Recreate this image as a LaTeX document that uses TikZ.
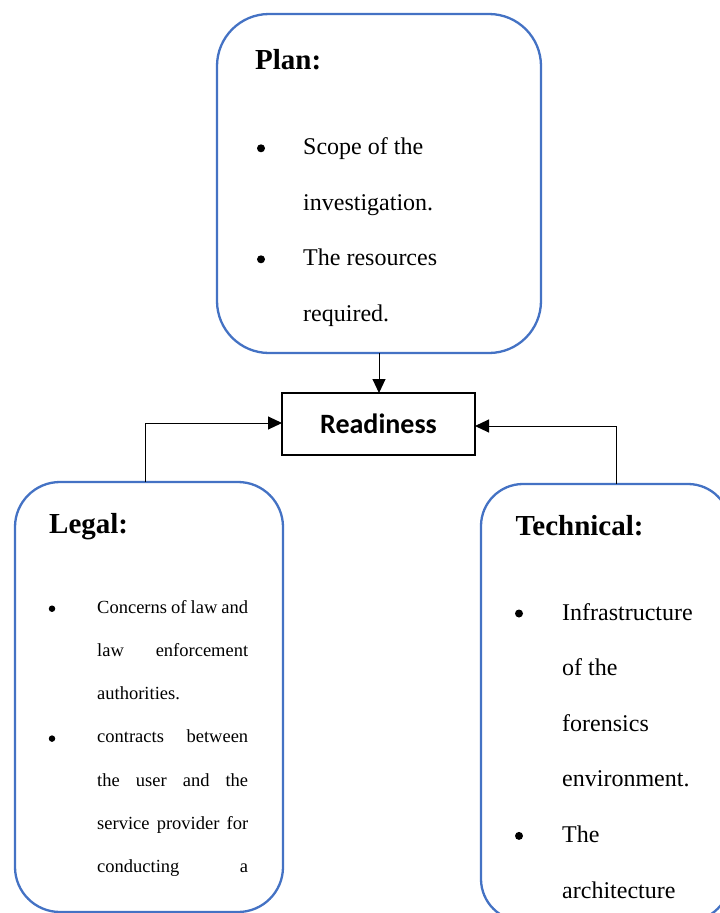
\documentclass[tikz,border=0pt]{standalone}
\usepackage{fontspec}
\setmainfont{Liberation Serif}
\newfontfamily\calibfont{Carlito}
\usetikzlibrary{arrows.meta}
\definecolor{boxblue}{RGB}{68,114,196}

\begin{document}
\begin{tikzpicture}[x=1pt,y=-1pt,
  roundbox/.style={draw=boxblue, line width=2.3pt, rounded corners=#1,
    inner sep=0pt, outer sep=0pt, fill=white},
  roundbox/.default=45pt,
  readybox/.style={draw=black, line width=2.6pt, inner sep=0pt, outer sep=0pt,
    minimum width=193pt, minimum height=62pt,
    font=\calibfont\bfseries\fontsize{28}{32}\selectfont},
  heading/.style={anchor=base west, inner sep=0pt, font=\bfseries\fontsize{29}{34}\selectfont},
  bigtext/.style={anchor=base west, inner sep=0pt, font=\fontsize{24}{28}\selectfont},
  smalltext/.style={anchor=base west, inner sep=0pt, font=\fontsize{18.5}{22}\selectfont},
  bigdot/.style={circle, fill=black, inner sep=0pt, minimum size=8pt},
  smalldot/.style={circle, fill=black, inner sep=0pt, minimum size=6.5pt},
  link/.style={draw=black, line width=1pt, -{Triangle[length=14pt,width=13pt]}}
]
\clip (0,0) rectangle (720,913);
\fill[white] (0,0) rectangle (720,913);

% boxes
\node[roundbox=52pt, minimum width=324pt, minimum height=339pt] (plan) at (379,183.5) {};
\node[roundbox=45pt, minimum width=268pt, minimum height=430pt] (legal) at (149,697) {};
\node[roundbox=42pt, minimum width=249pt, minimum height=437pt] (tech) at (605.5,702.5) {};
\node[readybox] (ready) at (378.5,424) {Readiness};

% connectors
\draw[link] (plan.south) -- (plan.south |- ready.north);
\draw[link] ([xshift=-4pt]legal.north) |- ([yshift=1pt]ready.west);
\draw[link] ([xshift=10.5pt]tech.north) |- ([yshift=-2pt]ready.east);

% plan text
\node[heading] (planhead) at (255,69) {Plan:};
\node[bigdot] (pb1) at (261,148.3) {};
\node[bigtext] (p1) at (303,154) {Scope of the};
\node[bigtext] (p2) at (303,210) {investigation.};
\node[bigdot] (pb2) at (261,259.3) {};
\node[bigtext] (p3) at (303,265) {The resources};
\node[bigtext] (p4) at (303,321) {required.};

% legal text
\node[heading] (legalhead) at (49,533) {Legal:};
\node[smalldot] (lb1) at (52,608.7) {};
\node[smalltext] (l1) at (97,613) {\makebox[151pt][s]{Concerns of law and}};
\node[smalltext] (l2) at (97,656.3) {\makebox[151pt][s]{law enforcement}};
\node[smalltext] (l3) at (97,699.6) {authorities.};
\node[smalldot] (lb2) at (52,738.6) {};
\node[smalltext] (l4) at (97,742.9) {\makebox[151pt][s]{contracts between}};
\node[smalltext] (l5) at (97,786.2) {\makebox[151pt][s]{the user and the}};
\node[smalltext] (l6) at (97,829.5) {\makebox[151pt][s]{service provider for}};
\node[smalltext] (l7) at (97,872.8) {\makebox[151pt][s]{conducting a}};

% technical text
\node[heading] (techhead) at (515.5,535) {Technical:};
\node[bigdot] (tb1) at (519,613.5) {};
\node[bigtext] (t1) at (562,620) {Infrastructure};
\node[bigtext] (t2) at (562,675.6) {of the};
\node[bigtext] (t3) at (562,731.2) {forensics};
\node[bigtext] (t4) at (562,786.8) {environment.};
\node[bigdot] (tb2) at (519,835.9) {};
\node[bigtext] (t5) at (562,842.4) {The};
\node[bigtext] (t6) at (562,898) {architecture};
\end{tikzpicture}
\end{document}
